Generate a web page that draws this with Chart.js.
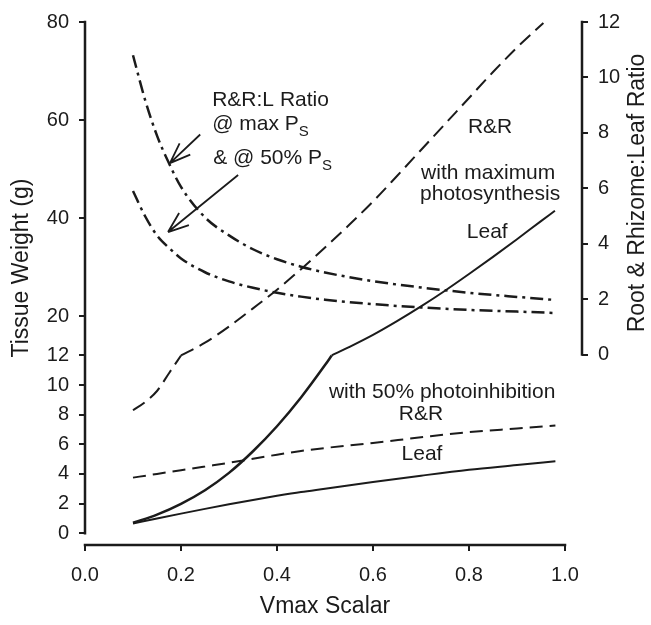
<!DOCTYPE html>
<html>
<head>
<meta charset="utf-8">
<script src="https://cdn.jsdelivr.net/npm/chart.js@4.4.0/dist/chart.umd.min.js"></script>
<style>
  html, body { margin: 0; padding: 0; background: #fff; }
</style>
</head>
<body>
<canvas id="chart" width="651" height="625"></canvas>
<script>
const FONT = '"Liberation Sans", Arial, Helvetica, sans-serif';
const INK = "#1b1b1b";

// axis ticks
const xTicks = [0, 0.2, 0.4, 0.6, 0.8, 1.0];
const leftTicks = [0, 2, 4, 6, 8, 10, 12, 20, 40, 60, 80];
const rightTicks = [0, 2, 4, 6, 8, 10, 12];

// with maximum photosynthesis (tissue weight, g)
const rrMaxX = [0.1, 0.125, 0.15, 0.175, 0.2, 0.25, 0.3, 0.35, 0.4, 0.45, 0.5, 0.55, 0.6, 0.65, 0.7, 0.75, 0.8, 0.85, 0.9, 0.955];
const rrMaxY = [8.3, 8.85, 9.6, 10.8, 12.0, 14.6, 17.9, 21.6, 25.4, 29.6, 34.0, 38.6, 43.4, 48.6, 53.9, 59.2, 64.5, 69.8, 74.8, 79.8];
const leafMaxX = [0.1, 0.15, 0.2, 0.25, 0.3, 0.35, 0.4, 0.45, 0.5, 0.514, 0.55, 0.6, 0.65, 0.7, 0.75, 0.8, 0.85, 0.9, 0.95, 0.979];
const leafMaxY = [0.7, 1.25, 1.98, 2.9, 4.07, 5.53, 7.22, 9.16, 11.35, 12.0, 13.7, 16.2, 19.0, 22.0, 25.2, 28.6, 32.1, 35.7, 39.4, 41.5];

// with 50% photoinhibition (tissue weight, g)
const halfX = [0.1, 0.15, 0.2, 0.25, 0.3, 0.35, 0.4, 0.45, 0.5, 0.6, 0.7, 0.8, 0.9, 0.98];
const rrHalfY = [3.75, 4.0, 4.25, 4.5, 4.75, 5.02, 5.3, 5.55, 5.75, 6.09, 6.47, 6.82, 7.07, 7.27];
const leafHalfY = [0.65, 0.99, 1.32, 1.64, 1.95, 2.24, 2.52, 2.78, 3.0, 3.45, 3.88, 4.28, 4.6, 4.86];

// R&R:Leaf ratio (right axis)
const ratioX = [0.1, 0.125, 0.15, 0.175, 0.2, 0.25, 0.3, 0.35, 0.4, 0.45, 0.5, 0.6, 0.7, 0.8, 0.9, 0.98];
const ratioMaxY = [10.8, 9.2, 7.9, 6.9, 6.05, 4.95, 4.3, 3.8, 3.44, 3.17, 2.96, 2.65, 2.42, 2.23, 2.08, 1.97];
const ratioHalfY = [5.9, 5.0, 4.3, 3.85, 3.47, 2.97, 2.64, 2.41, 2.23, 2.09, 1.98, 1.82, 1.70, 1.61, 1.55, 1.50];

// text labels inside the plot (x in Vmax, y in units of the given axis)
const notes = [
  { text: "R&R:L Ratio", x: 0.265, y: 9.19, axis: "y2", align: "left" },
  { text: "@ max P", sub: "S", x: 0.265, y: 8.33, axis: "y2", align: "left" },
  { text: "& @ 50% P", sub: "S", x: 0.267, y: 7.09, axis: "y2", align: "left" },
  { text: "R&R", x: 0.844, y: 8.19, axis: "y2", align: "center" },
  { text: "with maximum", x: 0.84, y: 6.55, axis: "y2", align: "center" },
  { text: "photosynthesis", x: 0.844, y: 5.77, axis: "y2", align: "center" },
  { text: "Leaf", x: 0.838, y: 4.42, axis: "y2", align: "center" },
  { text: "with 50% photoinhibition", x: 0.744, y: 9.53, axis: "y", align: "center" },
  { text: "R&R", x: 0.7, y: 8.0, axis: "y", align: "center" },
  { text: "Leaf", x: 0.702, y: 5.33, axis: "y", align: "center" },
];
const arrows = [
  { from: [0.24, 7.94], to: [0.177, 6.91] },
  { from: [0.319, 6.48], to: [0.173, 4.42] },
];

//Left axis is broken at 12: 0-12 is stretched, 12-80 compressed
const squashK = 4.967 / 15;
function squash(v) { return v <= 12 ? v : 12 + (v - 12) * squashK; }
function unsquash(d) { return d <= 12 ? d : 12 + (d - 12) / squashK; }

class BrokenScale extends Chart.LinearScale {
  buildTicks() {
    return leftTicks.map((v) => ({ value: v }));
  }
  getPixelForValue(v) {
    const a = squash(this.min);
    const b = squash(this.max);
    return this.getPixelForDecimal((squash(v) - a) / (b - a));
  }
  getValueForPixel(p) {
    const a = squash(this.min);
    const b = squash(this.max);
    return unsquash(a + this.getDecimalForPixel(p) * (b - a));
  }
}
BrokenScale.id = "broken";
BrokenScale.defaults = Chart.LinearScale.defaults;
Chart.register(BrokenScale);

function pts(xs, ys) {
  return xs.map((x, i) => ({ x: x, y: ys[i] }));
}

function line(data, axis, dash, width) {
  return {
    data: data,
    yAxisID: axis,
    borderColor: INK,
    borderWidth: width,
    borderDash: dash,
    pointRadius: 0,
    cubicInterpolationMode: "monotone",
    fill: false,
    clip: false,
  };
}

const rrKink = rrMaxX.indexOf(0.2);
const leafKink = leafMaxX.indexOf(0.514);
const rrMaxPts = pts(rrMaxX, rrMaxY);
const leafMaxPts = pts(leafMaxX, leafMaxY);

const datasets = [
  line(rrMaxPts.slice(0, rrKink + 1), "y", [14, 7], 2),
  line(rrMaxPts.slice(rrKink), "y", [14, 7], 2),
  line(leafMaxPts.slice(0, leafKink + 1), "y", [], 2.5),
  line(leafMaxPts.slice(leafKink), "y", [], 2),
  line(pts(halfX, rrHalfY), "y", [13, 7], 2),
  line(pts(halfX, leafHalfY), "y", [], 2),
  line(pts(ratioX, ratioMaxY), "y2", [13, 5, 3, 5], 2.5),
  line(pts(ratioX, ratioHalfY), "y2", [13, 5, 3, 5], 2.5),
];

const tickFont = { family: FONT, size: 20 };
const tickGrid = { drawOnChartArea: false, drawTicks: true, tickLength: 6, color: INK, lineWidth: 2 };

//Axis lines, titles, labels and arrows
const decor = {
  id: "decor",
  afterDraw(chart) {
    const ctx = chart.ctx;
    const x = chart.scales.x;
    const y = chart.scales.y;
    const y2 = chart.scales.y2;
    const area = chart.chartArea;

    ctx.save();
    ctx.strokeStyle = INK;
    ctx.lineWidth = 2.5;
    ctx.lineCap = "square";
    ctx.beginPath();
    ctx.moveTo(area.left, y.getPixelForValue(80));
    ctx.lineTo(area.left, y.getPixelForValue(0));
    ctx.moveTo(x.getPixelForValue(0), area.bottom);
    ctx.lineTo(x.getPixelForValue(1), area.bottom);
    ctx.moveTo(area.right, y2.getPixelForValue(12));
    ctx.lineTo(area.right, y2.getPixelForValue(0));
    ctx.stroke();

    ctx.fillStyle = INK;
    ctx.textBaseline = "middle";
    ctx.font = "23px " + FONT;
    ctx.textAlign = "center";
    ctx.fillText("Vmax Scalar", 325, 607);
    ctx.save();
    ctx.translate(22, 268);
    ctx.rotate(-Math.PI / 2);
    ctx.fillText("Tissue Weight (g)", 0, 0);
    ctx.restore();
    ctx.save();
    ctx.translate(638, 193);
    ctx.rotate(-Math.PI / 2);
    ctx.fillText("Root & Rhizome:Leaf Ratio", 0, 0);
    ctx.restore();

    ctx.textAlign = "left";
    notes.forEach((n) => {
      const px = x.getPixelForValue(n.x);
      const py = chart.scales[n.axis].getPixelForValue(n.y);
      ctx.font = "21px " + FONT;
      const w = ctx.measureText(n.text).width;
      let sw = 0;
      if (n.sub) {
        ctx.font = "15px " + FONT;
        sw = ctx.measureText(n.sub).width;
      }
      const left = n.align === "center" ? px - (w + sw) / 2 : px;
      ctx.font = "21px " + FONT;
      ctx.fillText(n.text, left, py);
      if (n.sub) {
        ctx.font = "15px " + FONT;
        ctx.fillText(n.sub, left + w, py + 8);
      }
    });

    ctx.lineWidth = 1.8;
    ctx.lineCap = "butt";
    arrows.forEach((a) => {
      const x0 = x.getPixelForValue(a.from[0]);
      const y0 = y2.getPixelForValue(a.from[1]);
      const x1 = x.getPixelForValue(a.to[0]);
      const y1 = y2.getPixelForValue(a.to[1]);
      const ang = Math.atan2(y0 - y1, x0 - x1);
      ctx.beginPath();
      ctx.moveTo(x0, y0);
      ctx.lineTo(x1, y1);
      [-0.36, 0.36].forEach((d) => {
        ctx.moveTo(x1, y1);
        ctx.lineTo(x1 + 22 * Math.cos(ang + d), y1 + 22 * Math.sin(ang + d));
      });
      ctx.stroke();
    });
    ctx.restore();
  },
};

new Chart(document.getElementById("chart"), {
  type: "line",
  data: { datasets: datasets },
  options: {
    responsive: false,
    animation: false,
    layout: { padding: { top: 15, left: 0, right: 0, bottom: 0 } },
    plugins: { legend: { display: false }, tooltip: { enabled: false } },
    scales: {
      x: {
        type: "linear",
        min: 0,
        max: 497 / 480,
        afterBuildTicks: (s) => { s.ticks = xTicks.map((v) => ({ value: v })); },
        afterFit: (s) => { s.height = 80; },
        ticks: { font: tickFont, color: INK, padding: 12, maxRotation: 0, callback: (v) => v.toFixed(1) },
        grid: tickGrid,
        border: { display: false },
      },
      y: {
        type: "broken",
        position: "left",
        min: -0.8,
        max: 80,
        afterFit: (s) => { s.width = 85; },
        ticks: { font: tickFont, color: INK, padding: 10, callback: (v) => String(v) },
        grid: tickGrid,
        border: { display: false },
      },
      y2: {
        type: "linear",
        position: "right",
        min: -6.872,
        max: 12,
        afterBuildTicks: (s) => { s.ticks = rightTicks.map((v) => ({ value: v })); },
        afterFit: (s) => { s.width = 69; },
        ticks: { font: tickFont, color: INK, padding: 10, callback: (v) => String(v) },
        grid: tickGrid,
        border: { display: false },
      },
    },
  },
  plugins: [decor],
});
</script>
</body>
</html>
